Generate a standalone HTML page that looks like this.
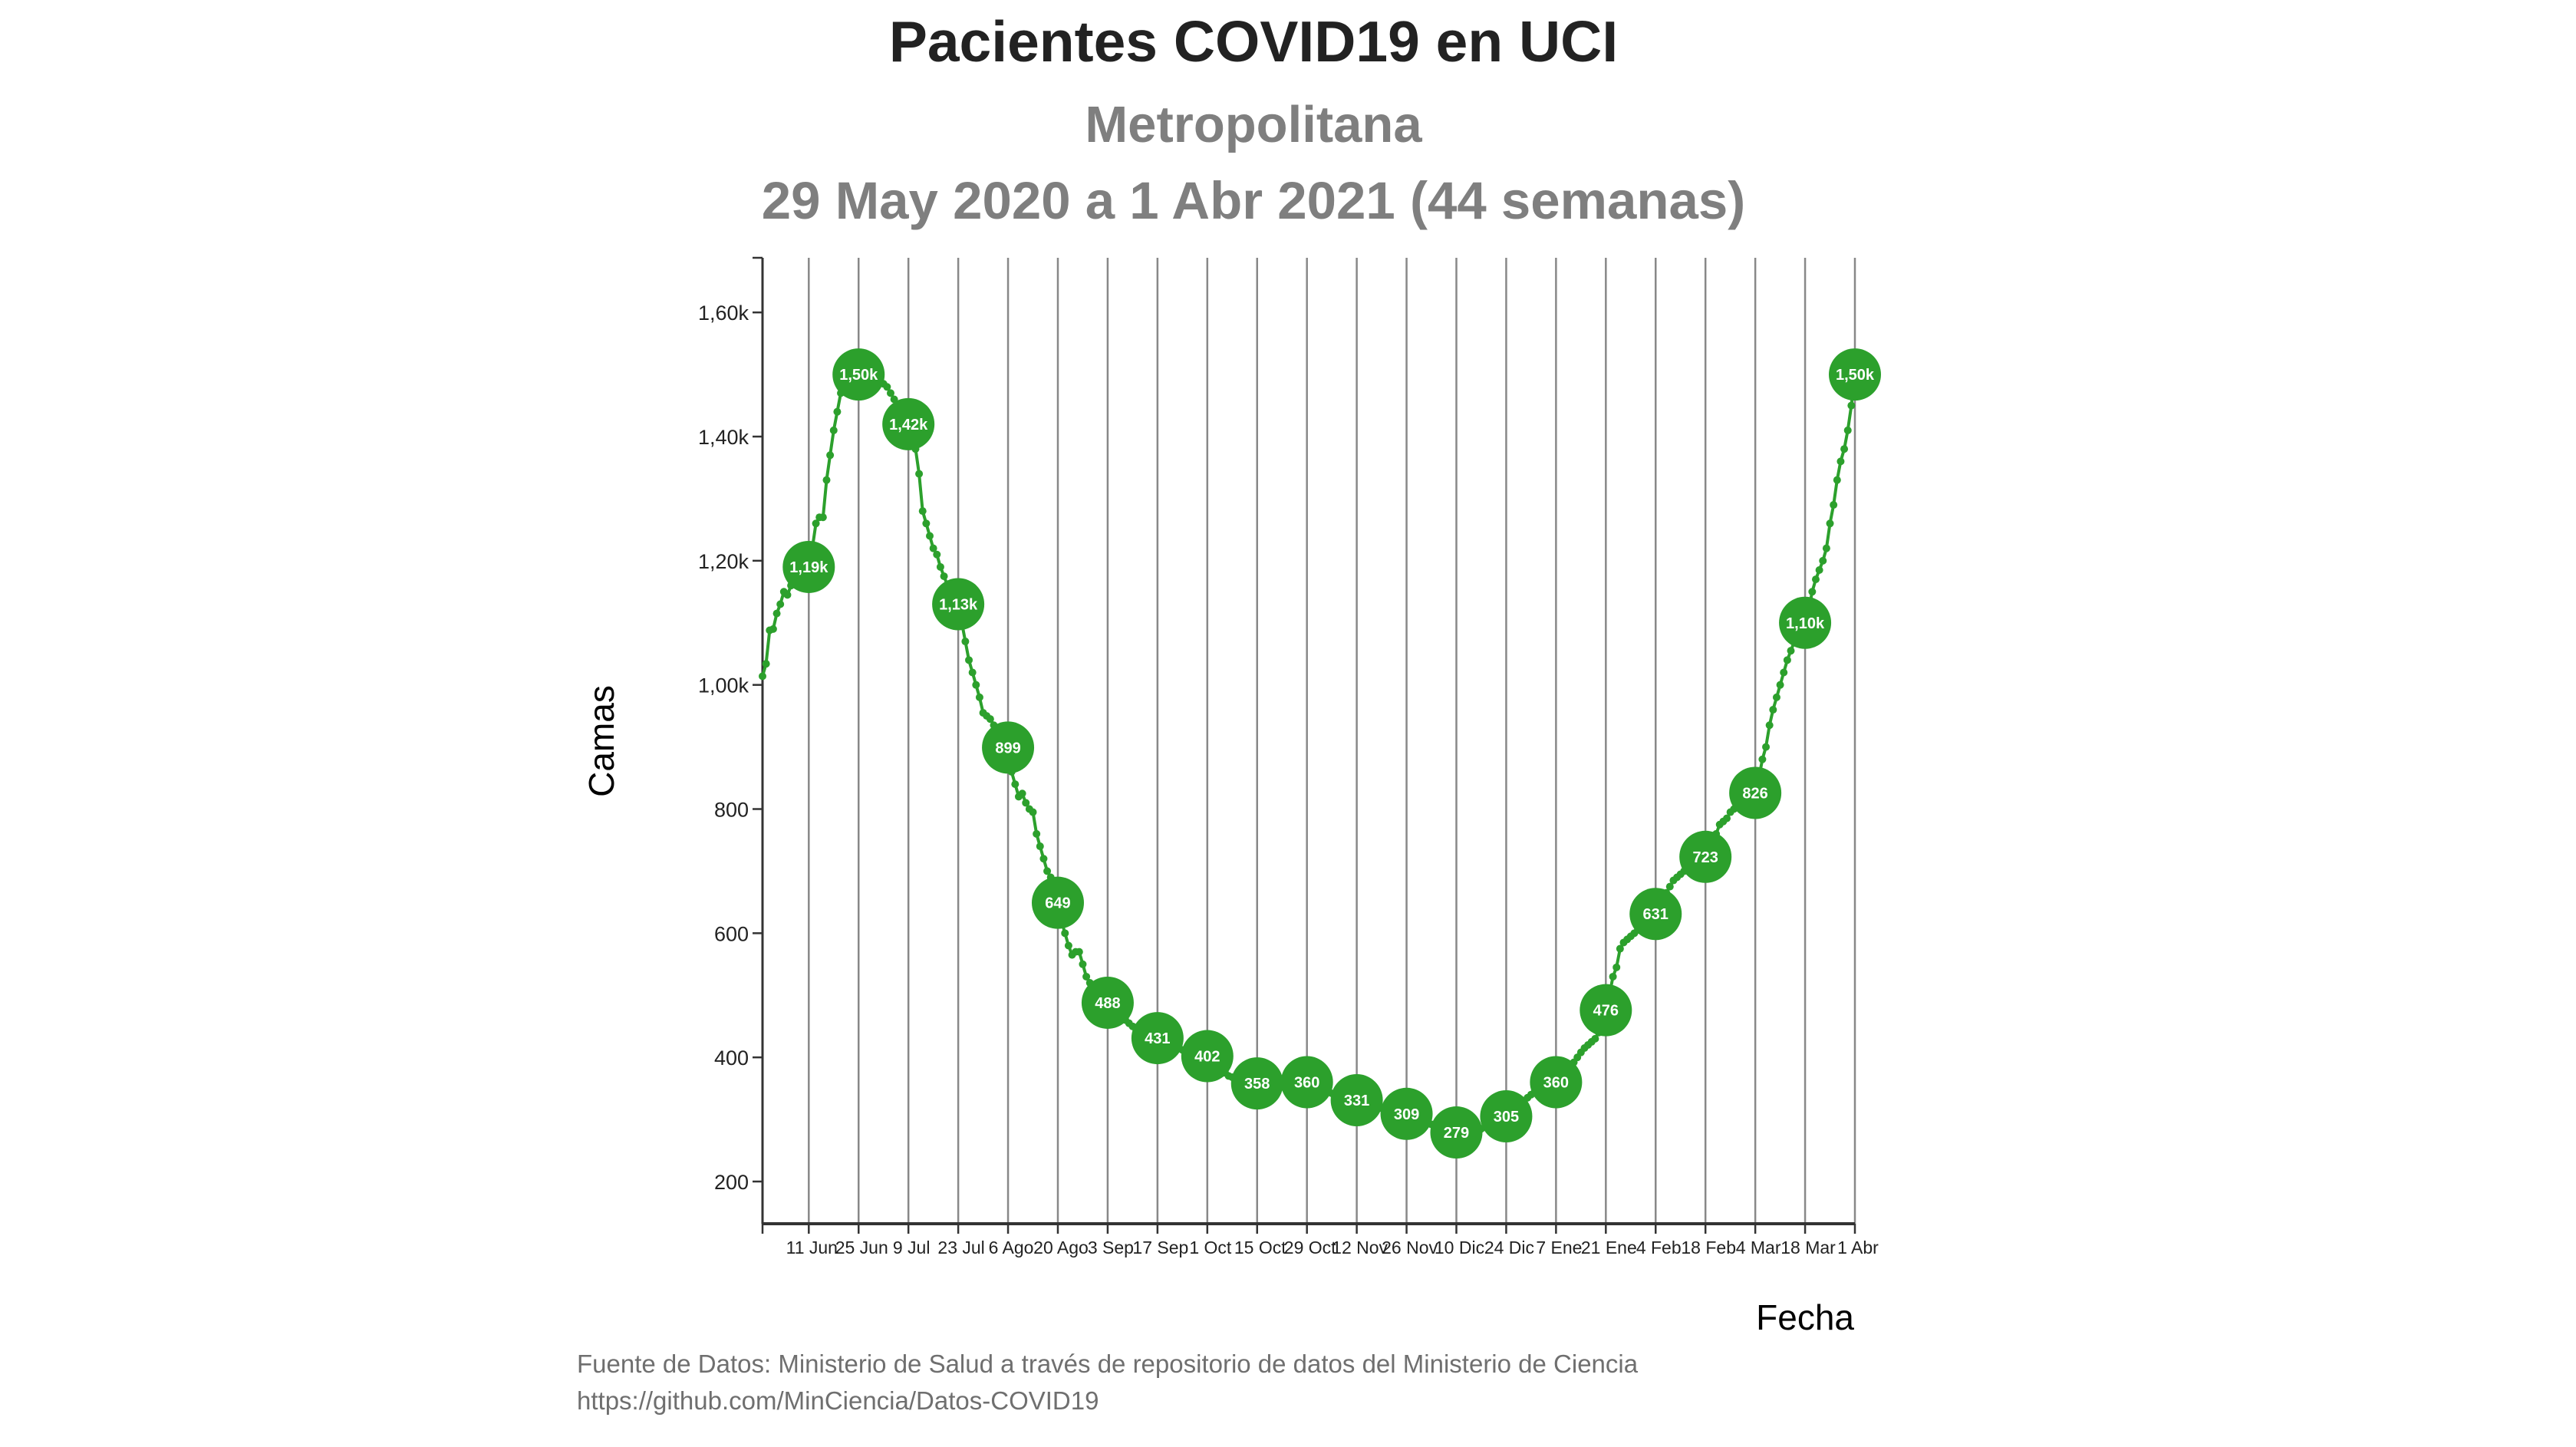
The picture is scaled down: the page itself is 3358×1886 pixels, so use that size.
<!DOCTYPE html>
<html><head><meta charset="utf-8"><style>
html,body{margin:0;padding:0;background:#fff;}
svg{display:block;font-family:"Liberation Sans",Arial,sans-serif;}
</style></head><body>
<svg id="chart" width="3358" height="1886" viewBox="0 0 3358 1886">
<text x="1634" y="80" text-anchor="middle" font-size="75" font-weight="bold" fill="#222">Pacientes COVID19 en UCI</text>
<text x="1634" y="185" text-anchor="middle" font-size="67" font-weight="bold" fill="#7f7f7f">Metropolitana</text>
<text x="1634" y="285" text-anchor="middle" font-size="69" font-weight="bold" fill="#7f7f7f">29 May 2020 a 1 Abr 2021 (44 semanas)</text>
<text transform="translate(800,966) rotate(-90)" text-anchor="middle" font-size="46" fill="#000">Camas</text>
<text x="2417" y="1733" text-anchor="end" font-size="46" fill="#000">Fecha</text>
<text x="752" y="1789" font-size="33" fill="#6f6f6f">Fuente de Datos: Ministerio de Salud a través de repositorio de datos del Ministerio de Ciencia</text>
<text x="752" y="1837" font-size="33" fill="#6f6f6f">https://github.com/MinCiencia/Datos-COVID19</text>
<g id="grid"></g><g id="axes"></g><g id="series"></g>
</svg>
<script>
const xTickLabels = ["11 Jun","25 Jun","9 Jul","23 Jul","6 Ago","20 Ago","3 Sep","17 Sep","1 Oct","15 Oct","29 Oct","12 Nov","26 Nov","10 Dic","24 Dic","7 Ene","21 Ene","4 Feb","18 Feb","4 Mar","18 Mar","1 Abr"];
const yTicks = [200,400,600,800,1000,1200,1400,1600];
const yTickLabels = ["200","400","600","800","1,00k","1,20k","1,40k","1,60k"];
const dailyValues = [
1014,1034,1088,1090,1115,1130,1150,1145,1160,1170,1180,1185,1188,1190,
1220,1260,1270,1270,1330,1370,1410,1440,1470,1490,1500,1510,1520,1500,
1520,1530,1510,1500,1490,1495,1485,1480,1470,1460,1450,1440,1430,1420,
1390,1380,1340,1280,1260,1240,1220,1210,1190,1175,1160,1150,1140,1130,
1100,1070,1040,1020,1000,980,955,950,945,935,925,915,905,899,
860,840,820,825,810,800,795,760,740,720,700,690,670,649,
620,600,580,565,570,570,550,530,520,510,500,495,490,488,
485,480,478,470,460,455,450,445,440,438,436,434,432,431,
428,425,422,420,418,415,412,410,408,406,404,403,402,402,
398,392,386,380,375,370,368,365,363,362,360,359,358,358,
359,360,360,362,363,362,361,362,361,361,360,360,360,360,
358,355,352,350,347,345,342,340,338,336,334,333,332,331,
330,328,326,324,322,320,318,316,315,313,312,311,310,309,
307,305,302,300,298,295,292,290,288,286,284,282,280,279,
275,272,270,270,275,280,285,288,292,296,298,300,302,305,
310,315,320,325,330,335,340,345,348,350,352,355,358,360,
365,372,378,385,392,400,408,415,420,425,430,440,455,476,
500,530,545,575,585,590,595,600,605,610,615,620,625,631,
640,650,665,675,685,690,695,700,705,708,712,716,720,723,
735,745,760,775,780,785,795,800,805,810,815,818,822,826,
850,880,900,935,960,980,1000,1020,1040,1055,1070,1080,1090,1100,
1120,1150,1170,1185,1200,1220,1260,1290,1330,1360,1380,1410,1450,1500];
const firstMarkerDay = 13, markerStep = 14;

const NS="http://www.w3.org/2000/svg";
const X0=994, X1=2418, YT=336, YB=1595;
const nDays = dailyValues.length-1;
const yMin=132, yMax=1688;
function xScale(d){return X0+(X1-X0)*d/nDays;}
function yScale(v){return YB-(YB-YT)*(v-yMin)/(yMax-yMin);}
function mk(tag,attrs,parent){const e=document.createElementNS(NS,tag);for(const k in attrs)e.setAttribute(k,attrs[k]);parent.appendChild(e);return e;}
const grid=document.getElementById('grid'),axes=document.getElementById('axes'),series=document.getElementById('series');
xTickLabels.forEach((lab,i)=>{
  const x=xScale(firstMarkerDay+i*markerStep);
  const g=mk('line',{x1:x,x2:x,y1:YT,y2:YB,stroke:'#888','stroke-width':2.5},grid);
  
  
  const t=mk('line',{x1:x,x2:x,y1:YB,y2:YB+13,stroke:'#333','stroke-width':2.5},axes);
  
  
  const tx=mk('text',{x:x+4,y:YB+39,'text-anchor':'middle','font-size':23,fill:'#222'},axes);
  tx.textContent=lab;
  
  
});
const t0=mk('line',{x1:X0,x2:X0,y1:YB,y2:YB+13,stroke:'#333','stroke-width':2.5},axes);


yTicks.forEach((v,i)=>{
  const y=yScale(v);
  const t=mk('line',{x1:X0-13,x2:X0,y1:y,y2:y,stroke:'#333','stroke-width':2.5},axes);
  
  
  const tx=mk('text',{x:X0-18,y:y+10,'text-anchor':'end','font-size':27,fill:'#222'},axes);
  tx.textContent=yTickLabels[i];
  
  
});
const ya=mk('line',{x1:X0,x2:X0,y1:YT,y2:YB,stroke:'#333','stroke-width':3},axes);


const xa=mk('line',{x1:X0,x2:X1,y1:YB,y2:YB,stroke:'#333','stroke-width':4},axes);


const yt=mk('line',{x1:X0-13,x2:X0,y1:YT,y2:YT,stroke:'#333','stroke-width':2.5},axes);



const green='#2ca02c';
const pts=dailyValues.map((v,d)=>xScale(d).toFixed(1)+','+yScale(v).toFixed(1)).join(' ');
const line=mk('polyline',{points:pts,fill:'none',stroke:green,'stroke-width':4,'stroke-linejoin':'round'},series);


dailyValues.forEach((v,d)=>{
  const c=mk('circle',{cx:xScale(d),cy:yScale(v),r:5,fill:green},series);
  
  
});
function fmt(v){return v>=1000?(v/1000).toFixed(2).replace('.',',')+'k':String(Math.round(v));}
for(let d=firstMarkerDay; d<=nDays; d+=markerStep){
  const v=dailyValues[d];
  const g=mk('g',{},series);
  
  
  mk('circle',{cx:xScale(d),cy:yScale(v),r:34,fill:green},g);
  const t=mk('text',{x:xScale(d),y:yScale(v)+7,'text-anchor':'middle','font-size':20,'font-weight':'bold',fill:'#fff'},g);
  t.textContent=fmt(v);
  
  
}
</script>
</body></html>
